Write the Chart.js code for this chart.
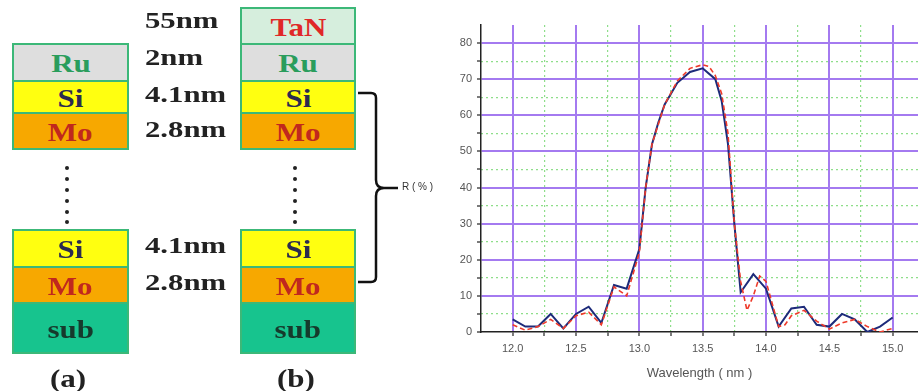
<!DOCTYPE html>
<html><head><meta charset="utf-8">
<script src="https://cdn.jsdelivr.net/npm/chart.js@4/dist/chart.umd.min.js"></script>
<style>
html,body{margin:0;padding:0;background:#fff;}
#wrap{position:relative;width:918px;height:391px;overflow:hidden;background:#fff;}
#c{position:absolute;left:0;top:0;}
.ly{position:absolute;box-sizing:border-box;border:2px solid #3cb878;display:flex;align-items:center;justify-content:center;font:bold 25px "Liberation Serif","DejaVu Serif",serif;line-height:1;}
.ly span{display:inline-block;transform:scaleX(1.24);padding-top:2px;}
.ru{background:#dedede;color:#2a9d5c;}
.si{background:#ffff10;color:#2b2b50;}
.mo{background:#f7a800;color:#c0281e;}
.sub{background:#17c48e;color:#163a2c;}
.tan{background:#d6eedd;color:#e02828;}
.lbl{position:absolute;font:bold 24px "Liberation Serif","DejaVu Serif",serif;color:#222;line-height:1;transform-origin:left center;transform:translateY(-50%) scaleX(1.28);}
.cap{position:absolute;font:bold 25px "Liberation Serif","DejaVu Serif",serif;color:#222;line-height:1;transform:translate(-50%,-50%) scaleX(1.24);}
.dot{position:absolute;width:4px;height:4px;border-radius:50%;background:#222;}
</style></head>
<body><div id="wrap">
<canvas id="c" width="918" height="391"></canvas>

<div class="ly ru"  style="left:12px;top:43px;width:117px;height:39px"><span>Ru</span></div>
<div class="ly si"  style="left:12px;top:80px;width:117px;height:34px"><span>Si</span></div>
<div class="ly mo"  style="left:12px;top:112px;width:117px;height:38px"><span>Mo</span></div>
<div class="ly si"  style="left:12px;top:229px;width:117px;height:39px"><span>Si</span></div>
<div class="ly mo"  style="left:12px;top:266px;width:117px;height:38px"><span>Mo</span></div>
<div class="ly sub" style="left:12px;top:302px;width:117px;height:52px"><span>sub</span></div>

<div class="ly tan" style="left:240px;top:7px;width:116px;height:38px"><span>TaN</span></div>
<div class="ly ru"  style="left:240px;top:43px;width:116px;height:39px"><span>Ru</span></div>
<div class="ly si"  style="left:240px;top:80px;width:116px;height:34px"><span>Si</span></div>
<div class="ly mo"  style="left:240px;top:112px;width:116px;height:38px"><span>Mo</span></div>
<div class="ly si"  style="left:240px;top:229px;width:116px;height:39px"><span>Si</span></div>
<div class="ly mo"  style="left:240px;top:266px;width:116px;height:38px"><span>Mo</span></div>
<div class="ly sub" style="left:240px;top:302px;width:116px;height:52px"><span>sub</span></div>

<div class="lbl" style="left:145px;top:20px">55nm</div>
<div class="lbl" style="left:145px;top:57px">2nm</div>
<div class="lbl" style="left:145px;top:94px">4.1nm</div>
<div class="lbl" style="left:145px;top:129px">2.8nm</div>
<div class="lbl" style="left:145px;top:245px">4.1nm</div>
<div class="lbl" style="left:145px;top:282px">2.8nm</div>

<div class="dot" style="left:65px;top:166px"></div>
<div class="dot" style="left:65px;top:177px"></div>
<div class="dot" style="left:65px;top:188px"></div>
<div class="dot" style="left:65px;top:199px"></div>
<div class="dot" style="left:65px;top:210px"></div>
<div class="dot" style="left:65px;top:220px"></div>
<div class="dot" style="left:293px;top:166px"></div>
<div class="dot" style="left:293px;top:177px"></div>
<div class="dot" style="left:293px;top:188px"></div>
<div class="dot" style="left:293px;top:199px"></div>
<div class="dot" style="left:293px;top:210px"></div>
<div class="dot" style="left:293px;top:220px"></div>

<div class="cap" style="left:68px;top:378px">(a)</div>
<div class="cap" style="left:296px;top:378px">(b)</div>

<svg style="position:absolute;left:0;top:0" width="918" height="391">
<path d="M358 93 L371 93 Q376 93 376 98 L376 180 Q376 188 384 188 L398 188 M384 188 Q376 188 376 196 L376 277 Q376 282 371 282 L358 282" fill="none" stroke="#111" stroke-width="2.5"/>
</svg>
</div>
<script>
// Blue curve (solid)
const blueWavelength = [12.0,12.1,12.2,12.3,12.4,12.5,12.6,12.7,12.8,12.9,13.0,13.05,13.1,13.15,13.2,13.3,13.4,13.5,13.6,13.65,13.7,13.75,13.8,13.9,14.0,14.1,14.2,14.3,14.4,14.5,14.6,14.7,14.8,14.9,15.0];
const blueReflectance = [3.5,1.5,1.5,5,1,5,7,2.5,13,12,23,40,52,58,63,69,72,73,70,64,52,30,11,16,12,1.5,6.5,7,2,1.5,5,3.5,0,1.5,4];
// Red curve (dashed)
const redWavelength = [12.0,12.1,12.2,12.3,12.4,12.5,12.6,12.7,12.8,12.9,12.95,13.0,13.05,13.1,13.2,13.3,13.4,13.5,13.55,13.6,13.65,13.7,13.75,13.8,13.85,13.9,13.95,14.0,14.1,14.15,14.2,14.3,14.4,14.5,14.6,14.7,14.8,14.9,15.0];
const redReflectance = [2,0.5,1.5,3.5,1,4.5,5.5,2,12.5,10,16,22,40,52,63,69.5,73,74,73.5,71,66,55,30,14,6,10,15.5,14,1.5,2,4.5,6,3,0.8,2.5,3.5,1.5,0,1];
// Ticks
const xMajorTicks = [12.0,12.5,13.0,13.5,14.0,14.5,15.0];
const xMinorTicks = [12.25,12.75,13.25,13.75,14.25,14.75];
const yMajorTicks = [0,10,20,30,40,50,60,70,80];
const yMinorTicks = [5,15,25,35,45,55,65,75];
const xTitle = 'Wavelength ( nm )';
const yTitle = 'R ( % )';

const PURPLE = '#a47af0', GREEN = '#8ede8a', AXIS = '#222', TXT = '#555';
const isIn = (v, arr) => arr.some(a => Math.abs(a - v) < 1e-6);
const allX = [...xMajorTicks, ...xMinorTicks].sort((a,b)=>a-b);
const allY = [...yMajorTicks, ...yMinorTicks].sort((a,b)=>a-b);

const yTitlePlugin = {
  id: 'yTitle',
  afterDraw(chart) {
    const c = chart.ctx, y = chart.scales.y;
    c.save();
    c.font = '10px "Liberation Sans", Arial, sans-serif';
    c.fillStyle = '#333';
    c.textBaseline = 'middle';
    c.fillText(yTitle, 402, y.getPixelForValue(40));
    c.restore();
  }
};

new Chart(document.getElementById('c'), {
  type: 'line',
  data: { datasets: [
    { data: blueWavelength.map((x,i)=>({x, y: blueReflectance[i]})), borderColor:'#1d2b7a', borderWidth:2, pointRadius:0, tension:0, fill:false, order:2 },
    { data: redWavelength.map((x,i)=>({x, y: redReflectance[i]})), borderColor:'#ee3a2a', borderWidth:1.6, borderDash:[5,3], pointRadius:0, tension:0, fill:false, order:1 }
  ]},
  options: {
    responsive:false, animation:false,
    layout:{ padding:{ left:441, top:25, right:0, bottom:0 } },
    plugins:{ legend:{display:false}, tooltip:{enabled:false} },
    scales:{
      xm:{ type:'linear', position:'bottom', min:11.75, max:15.2,
        afterBuildTicks(s){ s.ticks = xMinorTicks.map(v=>({value:v})); },
        afterFit(s){ s.height = 0; },
        ticks:{ display:false }, border:{ display:false, dash:[2,3] },
        grid:{ color:GREEN, lineWidth:1.2, drawTicks:false } },
      ym:{ type:'linear', position:'left', min:0, max:85,
        afterBuildTicks(s){ s.ticks = yMinorTicks.map(v=>({value:v})); },
        afterFit(s){ s.width = 0; },
        ticks:{ display:false }, border:{ display:false, dash:[2,3] },
        grid:{ color:GREEN, lineWidth:1.2, drawTicks:false } },
      x:{ type:'linear', position:'bottom', min:11.75, max:15.2,
        afterBuildTicks(s){ s.ticks = allX.map(v=>({value:v})); },
        afterFit(s){ s.height = 59; },
        ticks:{ autoSkip:false, maxRotation:0, padding:6, color:TXT,
          font:{ family:'"Liberation Sans", Arial, sans-serif', size:11 },
          callback:(v)=> isIn(v, xMajorTicks) ? v.toFixed(1) : '' },
        border:{ color:AXIS, width:1.5 },
        grid:{ color:(ctx)=> ctx.tick && isIn(ctx.tick.value, xMajorTicks) ? PURPLE : 'rgba(0,0,0,0)',
          lineWidth:2, tickColor:AXIS, tickLength:4, tickWidth:1.2 },
        title:{ display:true, text:xTitle, color:TXT, padding:{top:4,bottom:10},
          font:{ family:'"Liberation Sans", Arial, sans-serif', size:13 } } },
      y:{ type:'linear', position:'left', min:0, max:85,
        afterBuildTicks(s){ s.ticks = allY.map(v=>({value:v})); },
        afterFit(s){ s.width = 40; },
        ticks:{ autoSkip:false, padding:5, color:TXT,
          font:{ family:'"Liberation Sans", Arial, sans-serif', size:11 },
          callback:(v)=> isIn(v, yMajorTicks) ? String(v) : '' },
        border:{ color:AXIS, width:1.5 },
        grid:{ color:(ctx)=> ctx.tick && isIn(ctx.tick.value, yMajorTicks) && ctx.tick.value > 0 ? PURPLE : 'rgba(0,0,0,0)',
          lineWidth:2, tickColor:AXIS, tickLength:4, tickWidth:1.2 } }
    }
  },
  plugins:[yTitlePlugin]
});
</script>
</body></html>
